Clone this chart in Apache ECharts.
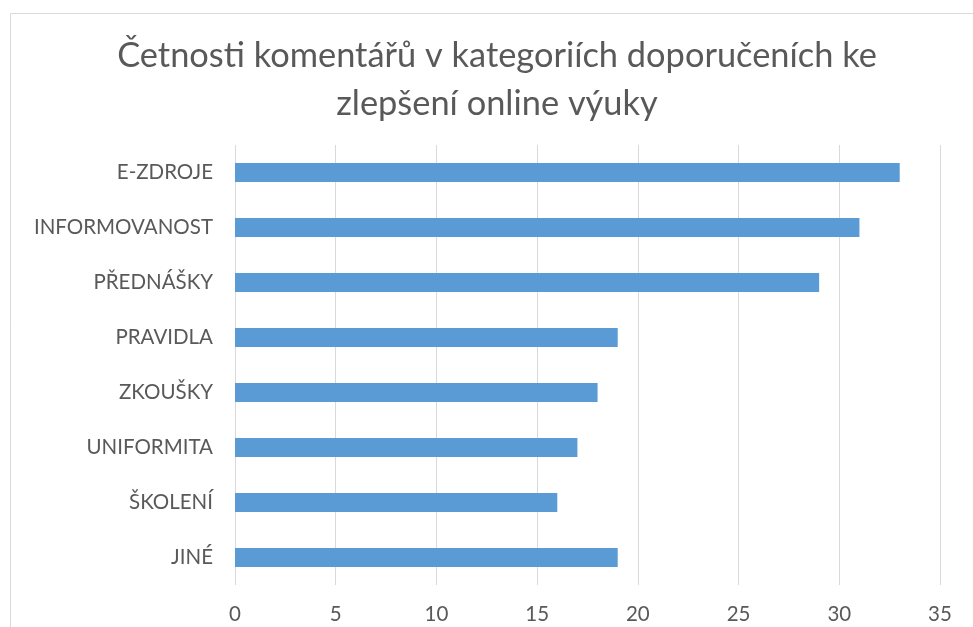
<!DOCTYPE html>
<html>
<head>
<meta charset="utf-8">
<script src="https://cdn.jsdelivr.net/npm/echarts@6/dist/echarts.min.js"></script>
<style>
  html, body { margin: 0; padding: 0; background: #fff; }
  #chart { width: 973px; height: 627px; }
</style>
</head>
<body>
<div id="chart"></div>
<script>
// data
var categories = ['E-ZDROJE', 'INFORMOVANOST', 'PŘEDNÁŠKY', 'PRAVIDLA', 'ZKOUŠKY', 'UNIFORMITA', 'ŠKOLENÍ', 'JINÉ'];
var counts = [33, 31, 29, 19, 18, 17, 16, 19];
var xTicks = [0, 5, 10, 15, 20, 25, 30, 35];

var myChart = echarts.init(document.getElementById('chart'));

var font = 'Lato, "Open Sans", sans-serif';

var option = {
  animation: false,
  title: {
    text: 'Četnosti komentářů v kategoriích doporučeních ke\nzlepšení online výuky',
    left: 492,
    top: 27,
    textAlign: 'center',
    textStyle: {
      color: '#595959',
      fontFamily: font,
      fontWeight: 'normal',
      fontSize: 34.4,
      lineHeight: 48
    }
  },
  graphic: [{
    type: 'rect',
    shape: { x: 10.5, y: 13.5, width: 1000, height: 700 },
    style: { fill: 'none', stroke: '#d9d9d9', lineWidth: 1 },
    silent: true
  }],
  grid: {
    left: 235,
    right: 33,
    top: 145,
    bottom: 42
  },
  xAxis: {
    type: 'value',
    min: xTicks[0],
    max: xTicks[xTicks.length - 1],
    interval: 5,
    axisLine: { show: false },
    axisTick: { show: false },
    axisLabel: {
      color: '#595959',
      fontFamily: font,
      fontSize: 20.5,
      margin: 19
    },
    splitLine: { lineStyle: { color: '#d9d9d9', width: 1 } }
  },
  yAxis: {
    type: 'category',
    data: categories,
    inverse: true,
    axisLine: { show: false },
    axisTick: { show: false },
    axisLabel: {
      color: '#595959',
      fontFamily: font,
      fontSize: 20.5,
      margin: 22
    }
  },
  series: [{
    type: 'bar',
    data: counts,
    barWidth: 19,
    itemStyle: { color: '#5b9bd5' }
  }]
};

myChart.setOption(option);
</script>
</body>
</html>
